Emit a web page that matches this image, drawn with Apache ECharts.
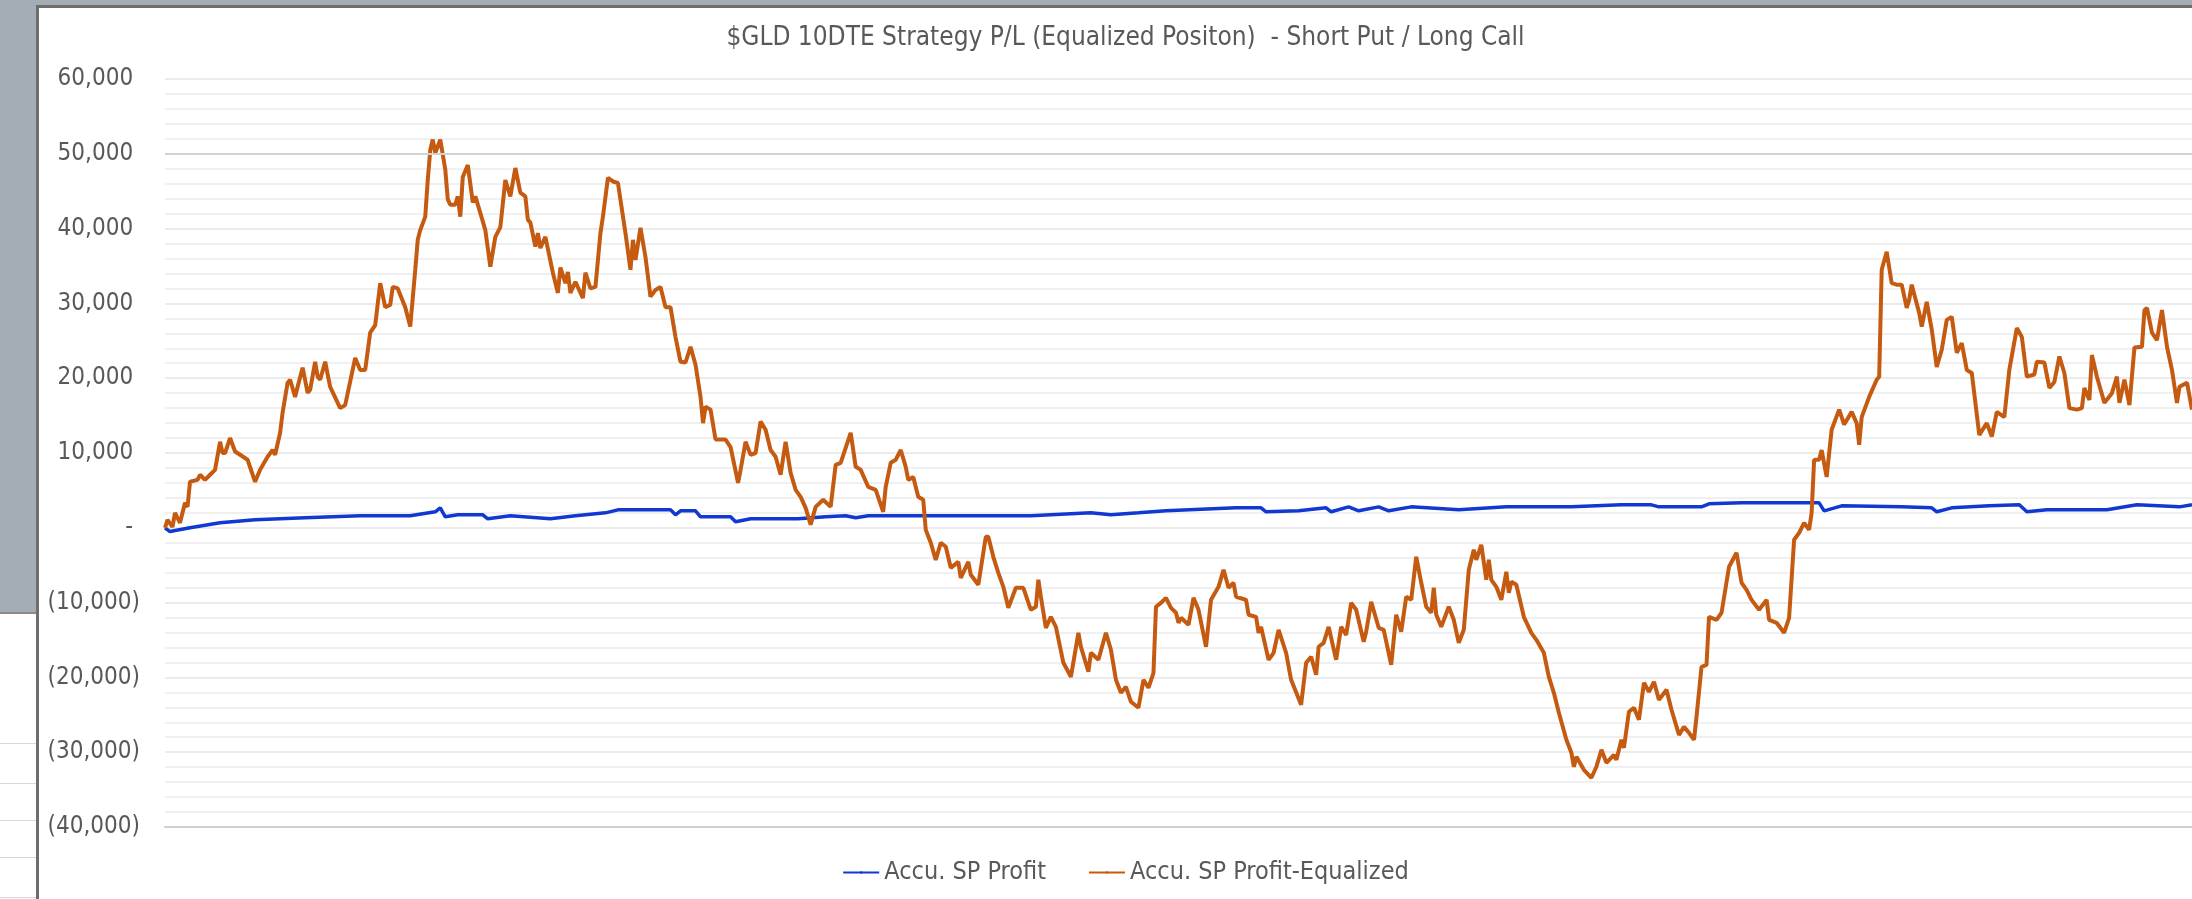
<!DOCTYPE html>
<html>
<head>
<meta charset="utf-8">
<script src="https://cdn.jsdelivr.net/npm/echarts@6/dist/echarts.min.js"></script>
<style>
  html, body { margin: 0; padding: 0; }
  body { width: 2192px; height: 899px; background: #a4adb6; position: relative; overflow: hidden; }
  #sheet { position: absolute; left: 0; top: 612px; width: 39px; height: 287px; background: #fff; border-top: 2px solid #8a8a8a; }
  #sheet div { position: absolute; left: 0; width: 39px; height: 0; border-top: 1px solid #d9d9d9; }
  #frame { position: absolute; left: 36px; top: 5px; width: 2180px; height: 900px; border-left: 3px solid #6e6e6e; border-top: 3px solid #6e6e6e; background: #fff; }
  #chart { width: 2173px; height: 900px; }
</style>
</head>
<body>
<div id="sheet"><div style="top:129px"></div><div style="top:169px"></div><div style="top:206px"></div><div style="top:243px"></div><div style="top:283px"></div></div>
<div id="frame"><div id="chart"></div></div>
<script>
// trading day index / accumulated P&L
const eqDays = [
  0, 1, 3, 4, 6, 8, 9, 10, 13, 14, 16, 18, 20, 22, 23, 24, 26, 28, 30, 33,
  36, 38, 41, 43, 44, 46, 47, 49, 50, 52, 53, 55, 57, 58, 60, 61, 62, 64, 66, 70,
  72, 76, 78, 80, 82, 84, 86, 88, 90, 91, 93, 96, 98, 100, 101, 102, 104, 105, 106, 107,
  108, 110, 112, 113, 114, 116, 117, 118, 119, 121, 123, 124, 126, 128, 130, 132, 134, 136, 138, 140,
  142, 144, 145, 146, 148, 149, 150, 152, 155, 157, 158, 160, 161, 162, 164, 167, 168, 170, 172, 174,
  175, 177, 179, 181, 184, 186, 187, 188, 190, 192, 194, 196, 198, 200, 202, 204, 206, 208, 210, 212,
  214, 215, 216, 218, 220, 224, 226, 229, 230, 232, 234, 236, 238, 240, 242, 244, 246, 248, 250, 252,
  254, 256, 258, 260, 263, 266, 268, 270, 274, 276, 278, 281, 284, 287, 288, 290, 292, 294, 296, 297,
  299, 301, 303, 304, 306, 308, 310, 312, 314, 317, 318, 321, 322, 325, 328, 329, 331, 333, 335, 337,
  340, 343, 346, 348, 349, 350, 352, 354, 356, 359, 362, 365, 366, 369, 370, 373, 376, 378, 380, 382,
  384, 386, 389, 391, 393, 395, 396, 398, 400, 402, 404, 405, 406, 409, 411, 413, 416, 418, 421, 423,
  425, 427, 428, 432, 433, 436, 437, 438, 441, 443, 445, 448, 450, 454, 456, 458, 460, 461, 463, 465,
  468, 470, 472, 474, 476, 479, 480, 482, 485, 487, 490, 492, 494, 496, 498, 500, 502, 504, 506, 507,
  508, 510, 513, 515, 517, 519, 521, 523, 524, 526, 528, 529, 530, 532, 534, 536, 537, 538, 540, 543,
  546, 548, 551, 553, 555, 557, 560, 562, 563, 564, 567, 570, 572, 574, 576, 579, 580, 582, 583, 585,
  587, 589, 591, 593, 595, 597, 600, 602, 605, 607, 609, 611, 612, 614, 616, 617, 620, 622, 625, 628,
  630, 632, 634, 637, 640, 641, 644, 647, 649, 651, 653, 655, 657, 658, 659, 661, 662, 664, 666, 669,
  671, 674, 676, 677, 678, 681, 684, 685, 686, 688, 690, 692, 694, 696, 697, 698, 701, 702, 704, 706,
  708, 710, 712, 714, 716, 718, 720, 722, 725, 728, 730, 732, 735, 737, 740, 742, 744, 747, 748, 751,
  753, 755, 757, 759, 761, 764, 766, 767, 769, 770, 772, 775, 778, 780, 781, 783, 785, 787, 790, 791,
  792, 794, 796, 798, 800, 802, 804, 805, 808, 810
];
const eqProfit = [
  0, 1070, 130, 2000, 670, 3340, 2800, 6150, 6400, 7090, 6400, 7090, 7750, 11500, 10000, 10000, 12000, 10200, 9760, 9100,
  6150, 7750, 9500, 10400, 9760, 12700, 15400, 19400, 19800, 17500, 18850, 21400, 18050, 18450, 22200, 20200, 19800, 22200, 18850, 16000,
  16400, 22700, 21100, 21100, 26100, 27100, 32700, 29500, 29800, 32200, 32000, 29500, 26900, 34500, 38500, 39800, 41600, 46500, 50500, 51900,
  50100, 51900, 47900, 43900, 43200, 43200, 44300, 41600, 46900, 48500, 43500, 44300, 42100, 39800, 34900, 38900, 40200, 46500, 44300, 48100,
  44800, 44300, 41200, 40800, 37600, 39400, 37400, 38900, 34100, 31400, 34800, 32700, 34200, 31400, 32900, 30700, 34100, 32000, 32200, 39400,
  41600, 46800, 46300, 46100, 39400, 34500, 38500, 35800, 40100, 36200, 30900, 31800, 32200, 29500, 29500, 25500, 22200, 22100, 24200, 21800,
  17500, 14000, 16200, 15800, 11800, 11800, 10800, 6000, 7750, 11500, 9760, 10000, 14200, 13100, 10400, 9500, 7090, 11500, 7350, 5080,
  4140, 2670, 400, 2800, 3740, 2800, 8420, 8690, 12700, 8150, 7750, 5480, 5080, 2140, 5480, 8690, 9100, 10400, 8150, 6400,
  6800, 4140, 3740, -270, -2000, -4280, -2000, -2540, -5350, -4550, -6690, -4550, -6280, -7620, -1200, -1200, -3880, -6020, -7890, -10700,
  -8020, -8020, -10960, -10560, -6950, -9220, -13370, -11900, -13240, -18050, -19920, -14040, -15910, -19250, -16710, -17650, -14040, -16310, -20320, -22060,
  -21260, -23260, -24060, -20320, -21390, -19390, -10560, -10030, -9360, -10700, -11360, -12700, -12030, -12970, -9360, -10960, -15910, -9630, -7890, -5620,
  -8020, -7350, -9220, -9630, -11630, -11900, -14040, -13240, -17650, -16710, -13640, -16710, -20320, -23660, -18050, -17250, -19650, -15910, -15380, -13240,
  -17650, -13240, -14310, -10030, -10960, -15240, -13900, -9890, -13370, -13640, -18320, -11630, -13900, -9220, -9630, -3880, -7350, -10560, -11360, -8020,
  -11630, -13240, -10560, -12300, -15380, -13640, -5620, -2940, -4280, -2270, -6950, -4280, -6950, -7890, -9630, -5880, -8690, -7220, -7620, -11900,
  -14040, -14980, -16710, -19920, -22060, -24730, -28340, -30080, -31950, -30620, -32350, -33420, -31950, -29680, -31420, -30350, -31020, -28340, -29410, -24600,
  -24060, -25670, -20720, -21930, -20590, -23000, -21660, -24330, -27680, -26610, -27410, -28340, -25270, -18590, -18320, -11900, -12300, -11360, -5210, -3340,
  -7350, -8290, -9630, -10960, -9630, -12300, -12700, -14040, -12030, -1600, -670, 670, -270, 2000, 9100, 9100, 10400, 6800, 13100, 15800,
  13800, 15500, 14000, 11100, 14800, 17500, 19800, 20200, 34500, 36900, 32700, 32500, 32500, 29400, 30500, 32500, 28700, 26900, 30200, 26500,
  21500, 23800, 27800, 28200, 23400, 24700, 21100, 20700, 12400, 14000, 12200, 15500, 14800, 21100, 26700, 25500, 20200, 20500, 22200, 22100,
  18700, 19500, 22900, 20700, 16000, 15800, 16000, 18700, 17100, 23100, 20200, 16700, 18000, 20200, 16700, 19800, 16400, 24100, 24200, 29100,
  29400, 26100, 25100, 29100, 24200, 21100, 16700, 18850, 19400, 15800
];
const spDays = [
  0, 2, 10, 22, 36, 56, 78, 98, 108, 110, 112, 117, 127, 129, 138, 154, 164, 176, 181, 202,
  204, 206, 212, 214, 226, 228, 234, 253, 264, 272, 276, 281, 301, 346, 370, 378, 389, 400, 428, 438,
  440, 453, 464, 466, 473, 477, 485, 489, 498, 517, 536, 562, 582, 594, 597, 614, 617, 630, 657, 661,
  663, 670, 694, 706, 708, 714, 729, 741, 744, 752, 776, 788, 805, 810
];
const spProfit = [
  0, -500, 0, 670, 1070, 1340, 1600, 1600, 2140, 2670, 1470, 1740, 1740, 1200, 1600, 1200, 1600, 2000, 2400, 2400,
  1740, 2270, 2270, 1470, 1470, 800, 1200, 1200, 1470, 1600, 1340, 1600, 1600, 1600, 2000, 1740, 2000, 2270, 2670, 2670,
  2140, 2270, 2670, 2140, 2800, 2270, 2800, 2270, 2800, 2400, 2800, 2800, 3070, 3070, 2800, 2800, 3200, 3340, 3340, 3340,
  2270, 2940, 2800, 2670, 2140, 2670, 2940, 3070, 2140, 2400, 2400, 3070, 2800, 3070
];
const yTicks = { min: -40000, max: 60000, step: 10000 };
const dayCount = 810;

const font = "'Liberation Sans Narrow', 'DejaVu Sans Condensed', sans-serif";

function accounting(v) {
  if (v === 0) return '- ';
  const s = Math.abs(v).toLocaleString('en-US');
  return v < 0 ? `(${s})` : `${s} `;
}

const chart = echarts.init(document.getElementById('chart'), null, { renderer: 'canvas' });
chart.setOption({
  animation: false,
  backgroundColor: '#fff',
  title: {
    text: '$GLD 10DTE Strategy P/L (Equalized Positon)  - Short Put / Long Call',
    left: 'center',
    top: 17,
    padding: 0,
    textStyle: { color: '#595959', fontSize: 26, fontWeight: 'normal', fontFamily: font },
  },
  legend: {
    left: 'center',
    top: 847,
    itemWidth: 36,
    itemHeight: 3,
    itemGap: 42,
    textStyle: { color: '#595959', fontSize: 25, fontFamily: font },
  },
  grid: { left: 126, right: 20, top: 71, bottom: 81 },
  xAxis: {
    type: 'value',
    min: 0,
    max: dayCount,
    axisLine: { show: true, onZero: false, lineStyle: { color: '#d0d0d0', width: 2 } },
    axisTick: { show: false },
    axisLabel: { show: false },
    splitLine: { show: false },
  },
  yAxis: {
    type: 'value',
    min: yTicks.min,
    max: yTicks.max,
    interval: yTicks.step,
    axisLine: { show: false },
    axisTick: { show: false },
    axisLabel: { color: '#595959', fontSize: 24, fontFamily: font, margin: 25, formatter: accounting },
    splitLine: { lineStyle: { color: '#ebebeb', width: 2 } },
    minorTick: { show: false, splitNumber: 5 },
    minorSplitLine: { show: true, lineStyle: { color: '#f0f0f0', width: 2 } },
  },
  series: [
    {
      name: 'Accu. SP Profit',
      type: 'line',
      data: spDays.map((d, i) => [d, spProfit[i]]),
      symbol: 'none',
      lineStyle: { color: '#1238d2', width: 3.5 },
      itemStyle: { color: '#1238d2' },
      markLine: {
        silent: true,
        symbol: 'none',
        label: { show: false },
        lineStyle: { color: '#d2d2d2', width: 2, type: 'solid' },
        data: [{ yAxis: 50000 }],
      },
    },
    {
      name: 'Accu. SP Profit-Equalized',
      type: 'line',
      data: eqDays.map((d, i) => [d, eqProfit[i]]),
      symbol: 'none',
      lineStyle: { color: '#c55a11', width: 4 },
      itemStyle: { color: '#c55a11' },
    },
  ],
});
</script>
</body>
</html>
